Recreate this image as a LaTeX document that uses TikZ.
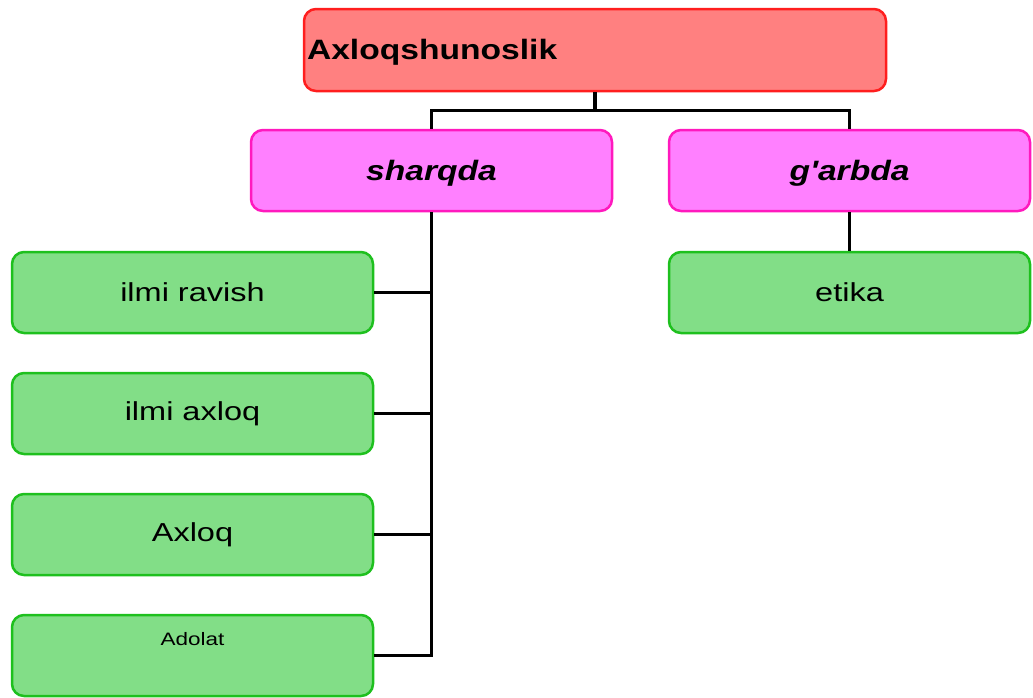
\documentclass[tikz,border=0pt]{standalone}
\usepackage{fontspec}
\setmainfont{Liberation Sans}
\newfontfamily\diagfont[FakeStretch=1.2]{Liberation Sans}
\newfontfamily\leaffont[FakeStretch=1.25]{Liberation Sans}
\definecolor{topfill}{RGB}{255,128,128}
\definecolor{topline}{RGB}{255,30,30}
\definecolor{pinkfill}{RGB}{255,128,255}
\definecolor{pinkline}{RGB}{255,25,190}
\definecolor{greenfill}{RGB}{130,222,135}
\definecolor{greenline}{RGB}{30,192,30}
\begin{document}
\begin{tikzpicture}[x=1pt,y=-1pt,
  box/.style={rounded corners=12pt, line width=2.5pt, inner sep=0pt,
    minimum width=361pt, minimum height=81pt, font=\leaffont\fontsize{26}{30}\selectfont},
  topbox/.style={box, fill=topfill, draw=topline, minimum width=582pt, minimum height=82pt,
    text width=576pt, align=left, text height=24pt, text depth=6pt,
    font=\diagfont\bfseries\fontsize{28}{32}\selectfont},
  midbox/.style={box, fill=pinkfill, draw=pinkline, text height=25pt, text depth=6pt,
    font=\diagfont\bfseries\itshape\fontsize{28}{32}\selectfont},
  leafbox/.style={box, fill=greenfill, draw=greenline},
  link/.style={line width=3.5pt, black}]
\useasboundingbox (0,0) rectangle (1033,697);
\node[topbox] (top) at (595,50) {Axloqshunoslik};
\node[midbox] (sh) at (431.5,170.5) {sharqda};
\node[midbox] (ga) at (849.5,170.5) {g'arbda};
\node[leafbox] (g1) at (192.5,292.5) {ilmi ravish};
\node[leafbox] (g2) at (192.5,413.5) {ilmi axloq};
\node[leafbox] (g3) at (192.5,534.5) {Axloq};
\node[leafbox, text height=10pt, text depth=31pt, font=\leaffont\fontsize{18}{20}\selectfont] (g4) at (192.5,655.5) {Adolat};
\node[leafbox] (et) at (849.5,292.5) {etika};
\draw[link] (top.south) -- ++(0,18) coordinate (j);
\draw[link] (sh.north) |- (j) -| (ga.north);
\draw[link] (ga.south) -- (et.north);
\draw[link] (sh.south) |- (g4.east);
\draw[link] (g1.east) -- (g1.east -| sh.south);
\draw[link] (g2.east) -- (g2.east -| sh.south);
\draw[link] (g3.east) -- (g3.east -| sh.south);
\end{tikzpicture}
\end{document}
